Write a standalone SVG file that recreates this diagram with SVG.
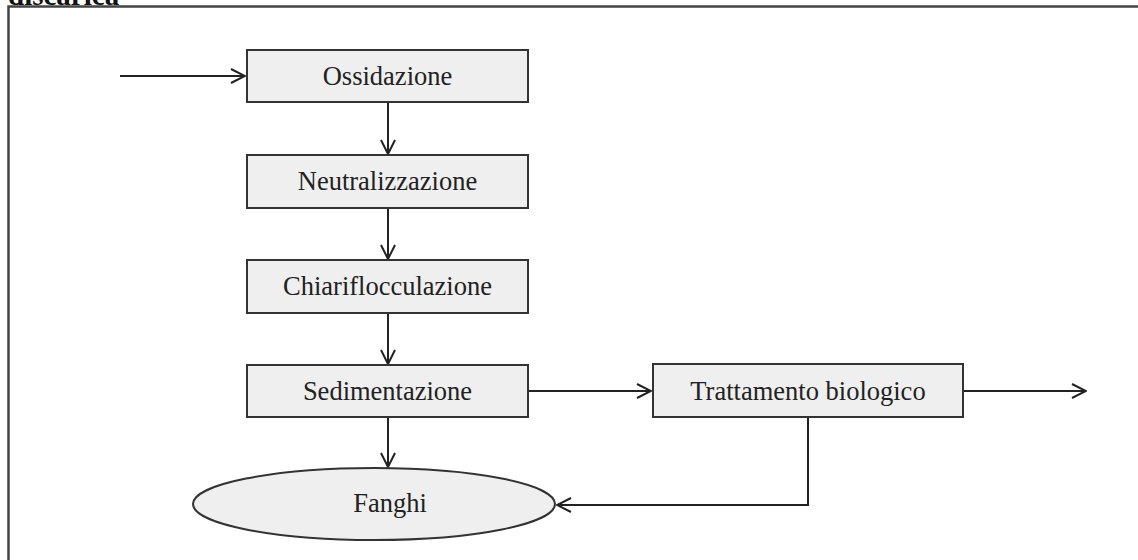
<svg xmlns="http://www.w3.org/2000/svg" width="1138" height="560" viewBox="0 0 1138 560">
<style>
.box{fill:#efefef;stroke:#333;stroke-width:2}
.lbl{font-family:"Liberation Serif","Times New Roman",serif;font-size:26.5px;fill:#222;text-anchor:middle}
.ln{fill:none;stroke:#222;stroke-width:2}
.frame{fill:none;stroke:#444;stroke-width:2.5}
</style>
<defs>
<marker id="arr" viewBox="0 0 16 16" refX="15" refY="8" markerWidth="16" markerHeight="16" markerUnits="userSpaceOnUse" orient="auto">
<path d="M1,1 L15,8 L1,15" fill="none" stroke="#222" stroke-width="2"/>
</marker>
</defs>
<text x="8" y="5" font-family="Liberation Serif, serif" font-weight="bold" font-size="29" fill="#111">discarica</text>
<path class="frame" d="M8.5,560 V6.5 H1138"/>
<g id="connectors">
<line class="ln" x1="120" y1="76" x2="245" y2="76" marker-end="url(#arr)"/>
<line class="ln" x1="388" y1="102" x2="388" y2="154" marker-end="url(#arr)"/>
<line class="ln" x1="388" y1="208" x2="388" y2="259" marker-end="url(#arr)"/>
<line class="ln" x1="388" y1="313" x2="388" y2="364" marker-end="url(#arr)"/>
<line class="ln" x1="388" y1="417" x2="388" y2="467" marker-end="url(#arr)"/>
<line class="ln" x1="528" y1="391" x2="651" y2="391" marker-end="url(#arr)"/>
<line class="ln" x1="963" y1="391" x2="1086" y2="391" marker-end="url(#arr)"/>
<polyline class="ln" points="808,417 808,505 557,505" marker-end="url(#arr)"/>
</g>
<g id="ossidazione"><rect class="box" x="247" y="50" width="281" height="52"/><text class="lbl" x="387.5" y="85">Ossidazione</text></g>
<g id="neutralizzazione"><rect class="box" x="247" y="155" width="281" height="53"/><text class="lbl" x="387.5" y="190">Neutralizzazione</text></g>
<g id="chiariflocculazione"><rect class="box" x="247" y="260" width="281" height="53"/><text class="lbl" x="387.5" y="295">Chiariflocculazione</text></g>
<g id="sedimentazione"><rect class="box" x="247" y="365" width="281" height="52"/><text class="lbl" x="387.5" y="400">Sedimentazione</text></g>
<g id="trattamento"><rect class="box" x="653" y="364" width="310" height="53"/><text class="lbl" x="808" y="400">Trattamento biologico</text></g>
<g id="fanghi"><ellipse class="box" cx="374" cy="504" rx="181" ry="36"/><text class="lbl" x="390" y="512">Fanghi</text></g>
</svg>
